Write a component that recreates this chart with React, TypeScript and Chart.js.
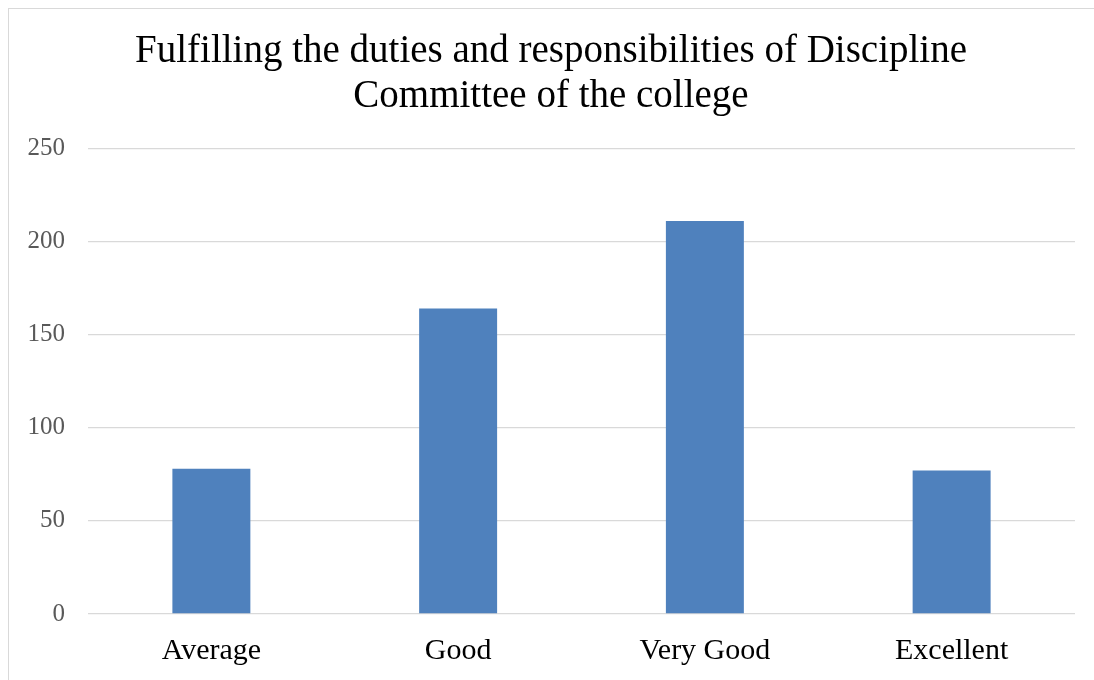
import React, { useEffect, useRef } from "react";
import { Chart, registerables } from "chart.js";

Chart.register(...registerables);

const titleLines = [
  "Fulfilling the duties and responsibilities of Discipline",
  "Committee of the college",
];
const categories = ["Average", "Good", "Very Good", "Excellent"];
const values = [78, 164, 211, 77];
const yTicks = [0, 50, 100, 150, 200, 250];

const FONT = "'Liberation Serif', 'DejaVu Serif', serif";

export default function App() {
  const ref = useRef<HTMLCanvasElement | null>(null);

  useEffect(() => {
    document.body.style.margin = "8px 0 0 8px";
    if (!ref.current) return;
    const chart = new Chart(ref.current, {
      type: "bar",
      data: {
        labels: categories,
        datasets: [
          {
            data: values,
            backgroundColor: "#4f81bd",
            borderWidth: 0,
            categoryPercentage: 1,
            barPercentage: 0.316,
          },
        ],
      },
      options: {
        animation: false,
        responsive: false,
        devicePixelRatio: 1,
        layout: { padding: { left: 18, right: 19, top: 0, bottom: 0 } },
        plugins: {
          legend: { display: false },
          tooltip: { enabled: false },
          title: {
            display: true,
            text: titleLines,
            color: "#000000",
            font: { family: FONT, size: 39, weight: "normal", lineHeight: 1.16 },
            padding: { top: 20, bottom: 29 },
          },
        },
        scales: {
          x: {
            grid: { display: false },
            border: { display: false },
            ticks: {
              color: "#000000",
              font: { family: FONT, size: 30 },
              padding: 11,
            },
          },
          y: {
            min: 0,
            max: 250,
            afterBuildTicks: (axis: any) => {
              axis.ticks = yTicks.map((v) => ({ value: v }));
            },
            afterFit: (axis: any) => {
              axis.width = 61;
            },
            grid: { color: "#d9d9d9", lineWidth: 1.3, drawTicks: false },
            border: { display: false },
            ticks: {
              color: "#595959",
              font: { family: FONT, size: 25 },
              padding: 23,
            },
          },
        },
      },
    });
    return () => chart.destroy();
  }, []);

  return (
    <div
      style={{
        width: 1085,
        height: 671,
        borderLeft: "1px solid #d9d9d9",
        borderTop: "1px solid #d9d9d9",
        background: "#ffffff",
        overflow: "hidden",
      }}
    >
      <canvas ref={ref} width={1085} height={671} style={{ display: "block" }} />
    </div>
  );
}
